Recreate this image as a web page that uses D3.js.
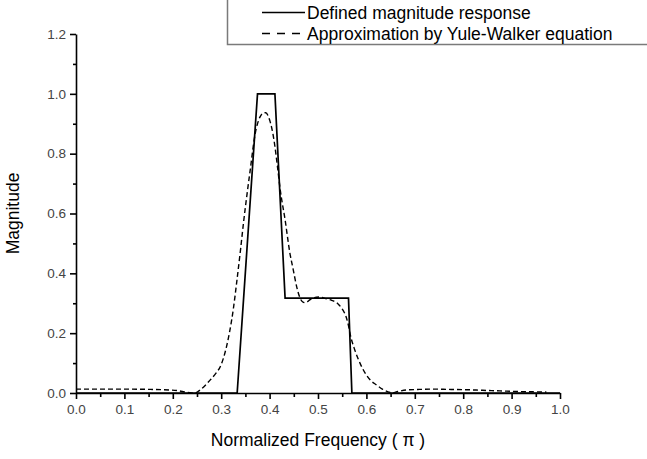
<!DOCTYPE html>
<html>
<head>
<meta charset="utf-8">
<script src="https://cdn.jsdelivr.net/npm/d3@7"></script>
<style>
  body { margin: 0; background: #fff; }
  svg { display: block; font-family: "Liberation Sans", Arial, sans-serif; }
</style>
</head>
<body>
<div id="container"></div>
<script>
let w = 647;
let h = 459;

// defined (ideal) magnitude response
let defFreq = [0, 0.333, 0.375, 0.411, 0.432, 0.563, 0.57, 1.0];
let defMag  = [0, 0, 1, 1, 0.317, 0.317, 0, 0];

// Yule-Walker approximation
let ywFreq = [0, 0.05, 0.10, 0.153, 0.18, 0.194, 0.21, 0.222, 0.235, 0.245, 0.26, 0.277, 0.29, 0.298,
  0.311, 0.318, 0.325, 0.332, 0.34, 0.346, 0.353, 0.36, 0.37, 0.38, 0.386, 0.392, 0.398, 0.402,
  0.407, 0.411, 0.416, 0.422, 0.432, 0.442, 0.449, 0.456, 0.463, 0.468, 0.473, 0.478, 0.483,
  0.49, 0.497, 0.504, 0.511, 0.52, 0.528, 0.535, 0.542, 0.549, 0.554, 0.559, 0.563, 0.566,
  0.576, 0.587, 0.60, 0.61, 0.621, 0.633, 0.645, 0.652, 0.665, 0.683, 0.71, 0.738, 0.77,
  0.807, 0.84, 0.876, 0.91, 0.944, 0.972];
let ywMag = [0.013, 0.013, 0.013, 0.012, 0.011, 0.010, 0.008, 0.004, 0.001, 0.0, 0.015, 0.043, 0.068, 0.088,
  0.155, 0.21, 0.28, 0.37, 0.48, 0.568, 0.66, 0.746, 0.865, 0.922, 0.935, 0.937, 0.922, 0.902,
  0.865, 0.824, 0.76, 0.679, 0.579, 0.467, 0.411, 0.355, 0.317, 0.305, 0.302, 0.305, 0.311,
  0.317, 0.32, 0.321, 0.318, 0.314, 0.31, 0.305, 0.297, 0.283, 0.27, 0.25, 0.225, 0.2,
  0.144, 0.099, 0.06, 0.04, 0.027, 0.013, 0.004, 0.0, 0.005, 0.01, 0.012, 0.013, 0.012,
  0.011, 0.009, 0.007, 0.005, 0.004, 0.003];

let xTicks = [0, 0.1, 0.2, 0.3, 0.4, 0.5, 0.6, 0.7, 0.8, 0.9, 1.0];
let yTicks = [0, 0.2, 0.4, 0.6, 0.8, 1.0, 1.2];

let legendLabels = ["Defined magnitude response", "Approximation by Yule-Walker equation"];

let viz = d3.select("#container")
  .append("svg")
    .attr("width", w)
    .attr("height", h)
;

let xScale = d3.scaleLinear().domain([0, 1]).range([76, 560]);
let yScale = d3.scaleLinear().domain([0, 1.2]).range([393, 34]);

// minor ticks (halfway between major ones)
let xMinor = d3.range(0.05, 1, 0.1);
let yMinor = d3.range(0.1, 1.2, 0.2);

let xMinorGroup = viz.append("g").attr("transform", "translate(0,393)");
xMinorGroup.call(d3.axisBottom(xScale).tickValues(xMinor).tickSize(4).tickFormat(""));
let yMinorGroup = viz.append("g").attr("transform", "translate(76,0)");
yMinorGroup.call(d3.axisLeft(yScale).tickValues(yMinor).tickSize(3).tickFormat(""));

// x axis
let xAxisGroup = viz.append("g").attr("class", "xAxisGroup")
  .attr("transform", "translate(0,393)");
xAxisGroup.call(d3.axisBottom(xScale).tickValues(xTicks).tickSize(6).tickSizeOuter(0).tickPadding(5).tickFormat(d3.format(".1f")));

// y axis
let yAxisGroup = viz.append("g").attr("class", "yAxisGroup")
  .attr("transform", "translate(76,0)");
yAxisGroup.call(d3.axisLeft(yScale).tickValues(yTicks).tickSize(6).tickSizeOuter(0).tickPadding(4).tickFormat(d3.format(".1f")));

viz.selectAll(".domain, .tick line")
  .attr("stroke", "#000")
  .attr("stroke-width", 1.6);
viz.selectAll(".tick text")
  .attr("fill", "#444")
  .style("font-size", "13.5px");
xMinorGroup.select(".domain").remove();
yMinorGroup.select(".domain").remove();

// curves
let defData = defFreq.map((f, i) => ({f: f, m: defMag[i]}));
let ywData = ywFreq.map((f, i) => ({f: f, m: ywMag[i]}));

let straightLine = d3.line().x(d => xScale(d.f)).y(d => yScale(d.m));
let smoothLine = d3.line().x(d => xScale(d.f)).y(d => yScale(d.m)).curve(d3.curveMonotoneX);

viz.append("path")
  .datum(ywData)
  .attr("d", smoothLine)
  .attr("fill", "none")
  .attr("stroke", "#000")
  .attr("stroke-width", 1.4)
  .attr("stroke-dasharray", "5,3");

viz.append("path")
  .datum(defData)
  .attr("d", straightLine)
  .attr("fill", "none")
  .attr("stroke", "#000")
  .attr("stroke-width", 1.7);

// axis titles
viz.append("text")
  .attr("x", 318)
  .attr("y", 446)
  .attr("text-anchor", "middle")
  .style("font-size", "17.5px")
  .text("Normalized Frequency ( \u03c0 )");

viz.append("text")
  .attr("transform", "translate(19,213.5) rotate(-90)")
  .attr("text-anchor", "middle")
  .style("font-size", "17.5px")
  .text("Magnitude");

// legend
let legend = viz.append("g").attr("class", "legend");
legend.append("rect")
  .attr("x", 227.5)
  .attr("y", -2)
  .attr("width", 440)
  .attr("height", 46.5)
  .attr("fill", "#fff")
  .attr("stroke", "#7a7a7a")
  .attr("stroke-width", 1.5);

let rows = legend.selectAll(".row").data(legendLabels).enter()
  .append("g")
    .attr("class", "row")
    .attr("transform", (d, i) => "translate(262," + (12.5 + i * 21) + ")");

rows.append("line")
  .attr("x1", 0)
  .attr("x2", 43)
  .attr("stroke", "#000")
  .attr("stroke-width", 1.6)
  .attr("stroke-dasharray", (d, i) => i == 0 ? null : "8,7");

rows.append("text")
  .attr("x", 45)
  .attr("y", 6)
  .style("font-size", "17.5px")
  .text(d => d);
</script>
</body>
</html>
